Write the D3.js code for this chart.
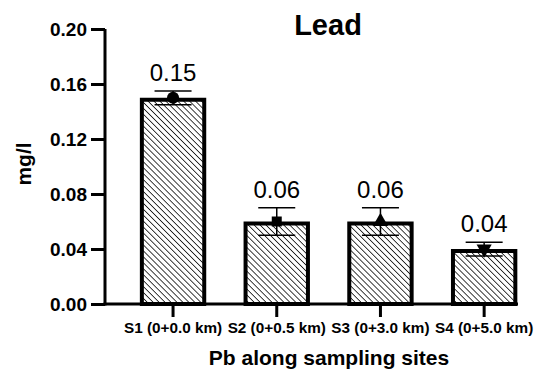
<!DOCTYPE html>
<html>
<head>
<meta charset="utf-8">
<script src="https://d3js.org/d3.v7.min.js"></script>
<style>
  body { margin: 0; background: #fff; }
  text { font-family: "Liberation Sans", Arial, sans-serif; fill: #000; }
</style>
</head>
<body>
<svg width="546" height="375"></svg>
<script>
const sites = ["S1 (0+0.0 km)", "S2 (0+0.5 km)", "S3 (0+3.0 km)", "S4 (0+5.0 km)"];
const means = [0.15, 0.06, 0.06, 0.04];
const errors = [0.005, 0.01, 0.01, 0.005];
const labels = ["0.15", "0.06", "0.06", "0.04"];
const markers = [d3.symbolCircle, d3.symbolSquare, d3.symbolTriangle, d3.symbolTriangle];
const yTicks = [0, 0.04, 0.08, 0.12, 0.16, 0.20];

var svg = d3.select("svg");

var defs = svg.append("defs");
var pat = defs.append("pattern")
  .attr("id", "hatch")
  .attr("patternUnits", "userSpaceOnUse")
  .attr("width", 4.2).attr("height", 4.2)
  .attr("patternTransform", "rotate(45)");
pat.append("rect").attr("width", 4.2).attr("height", 4.2).attr("fill", "#fff");
pat.append("line")
  .attr("x1", 0).attr("y1", 0).attr("x2", 4.2).attr("y2", 0)
  .attr("stroke", "#000").attr("stroke-width", 1.5);

var y = d3.scaleLinear().domain([0, 0.20]).range([304, 29]);
var x = d3.scaleBand().domain(sites).range([121.2, 536])
  .paddingInner(0.36).paddingOuter(0.18);

// bars
svg.selectAll(".bar")
  .data(sites)
  .enter().append("rect")
  .attr("x", function(d) { return x(d) + 2; })
  .attr("y", function(d, i) { return y(means[i]) + 2; })
  .attr("width", x.bandwidth() - 4)
  .attr("height", function(d, i) { return y(0) - y(means[i]) - 2; })
  .attr("fill", "url(#hatch)")
  .attr("stroke", "#000")
  .attr("stroke-width", 4);

// error bars + means
var capW = 37;
sites.forEach(function(s, i) {
  var cx = x(s) + x.bandwidth() / 2;
  var top = y(means[i] + errors[i]), bot = y(means[i] - errors[i]);
  var g = svg.append("g").attr("stroke", "#000").attr("stroke-width", 1.5);
  g.append("line").attr("x1", cx).attr("x2", cx).attr("y1", top).attr("y2", bot);
  g.append("line").attr("x1", cx - capW / 2).attr("x2", cx + capW / 2).attr("y1", top).attr("y2", top);
  g.append("line").attr("x1", cx - capW / 2).attr("x2", cx + capW / 2).attr("y1", bot).attr("y2", bot);
  var sym = d3.symbol().type(markers[i]).size(i === 0 ? 115 : 100);
  svg.append("path")
    .attr("d", sym())
    .attr("transform", "translate(" + cx + "," + y(means[i]) + ")" + (i === 3 ? " rotate(180)" : ""))
    .attr("fill", "#000");
  svg.append("text")
    .attr("x", cx).attr("y", top - 10)
    .attr("text-anchor", "middle")
    .style("font-size", "24px")
    .text(labels[i]);
});

// y axis
var yAxis = svg.append("g")
  .attr("transform", "translate(105,0)")
  .call(d3.axisLeft(y).tickValues(yTicks).tickFormat(d3.format(".2f")).tickSize(14).tickPadding(4));
yAxis.select(".domain").attr("stroke-width", 3).attr("d", "M0,29V305.5");
yAxis.selectAll(".tick line").attr("stroke-width", 3);
yAxis.selectAll(".tick text").style("font-size", "19px").style("font-weight", "bold");

// x axis
var xAxis = svg.append("g")
  .attr("transform", "translate(0,304)")
  .call(d3.axisBottom(x).tickSize(13).tickPadding(5));
xAxis.select(".domain").attr("stroke-width", 3).attr("d", "M103.5,0H518");
xAxis.selectAll(".tick line").attr("stroke-width", 3);
xAxis.selectAll(".tick text").style("font-size", "15.3px").style("font-weight", "bold");

// titles
svg.append("text")
  .attr("x", 328).attr("y", 35)
  .attr("text-anchor", "middle")
  .style("font-size", "29px").style("font-weight", "bold")
  .text("Lead");

svg.append("text")
  .attr("transform", "translate(31,164) rotate(-90)")
  .attr("text-anchor", "middle")
  .style("font-size", "21px").style("font-weight", "bold")
  .text("mg/l");

svg.append("text")
  .attr("x", 329).attr("y", 365)
  .attr("text-anchor", "middle")
  .style("font-size", "21px").style("font-weight", "bold")
  .text("Pb along sampling sites");
</script>
</body>
</html>
